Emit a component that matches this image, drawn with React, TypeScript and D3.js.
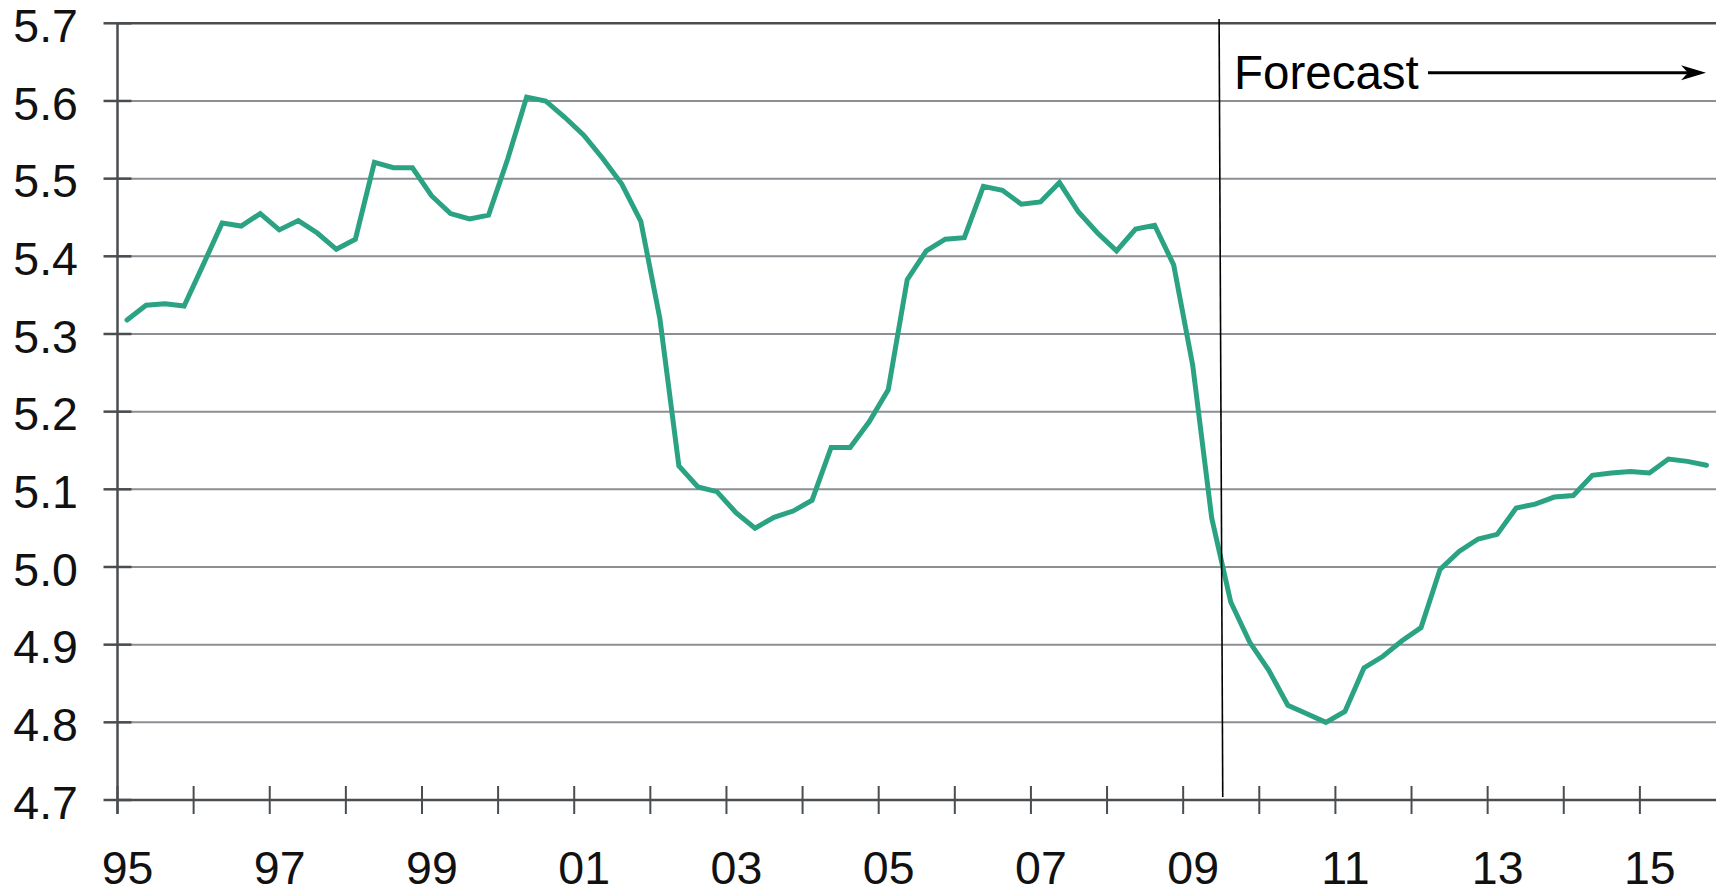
import React from "react";
import * as d3 from "d3";

const startYear = 1995;
const endYear = 2016;
const series: number[] = [
  5.318, 5.337, 5.339, 5.336, 5.389, 5.443, 5.439, 5.455,
  5.434, 5.446, 5.430, 5.409, 5.422, 5.521, 5.514, 5.514,
  5.478, 5.455, 5.448, 5.453, 5.525, 5.605, 5.600, 5.579,
  5.556, 5.526, 5.493, 5.445, 5.320, 5.130, 5.103, 5.097,
  5.070, 5.050, 5.064, 5.072, 5.086, 5.154, 5.154, 5.187,
  5.228, 5.370, 5.407, 5.422, 5.424, 5.490, 5.485, 5.467,
  5.470, 5.495, 5.457, 5.430, 5.407, 5.435, 5.440, 5.389,
  5.260, 5.063, 4.955, 4.903, 4.867, 4.822, 4.811, 4.800,
  4.814, 4.870, 4.885, 4.905, 4.922, 4.997, 5.020, 5.036,
  5.042, 5.076, 5.081, 5.090, 5.092, 5.118, 5.121, 5.123,
  5.121, 5.139, 5.136, 5.131,
];
const yTicks: number[] = [4.7, 4.8, 4.9, 5.0, 5.1, 5.2, 5.3, 5.4, 5.5, 5.6, 5.7];
const xTickYears: number[] = d3.range(1995, 2016);
const xLabelYears: number[] = [1995, 1997, 1999, 2001, 2003, 2005, 2007, 2009, 2011, 2013, 2015];
const forecastTop = 2009.472;
const forecastBottom = 2009.52;
const forecastLabel = "Forecast";

const W = 1716;
const H = 891;
const FONT = "'Liberation Sans', Arial, sans-serif";

export default function App() {
  const x = d3.scaleLinear().domain([startYear, endYear]).range([117.5, 1716]);
  const y = d3.scaleLinear().domain([4.7, 5.7]).range([800, 23.3]);
  const pts = series.map((v, i) => [startYear + (i + 0.5) / 4, v] as [number, number]);
  const line = d3
    .line<[number, number]>()
    .x((d) => x(d[0]))
    .y((d) => y(d[1]));
  const axisColor = "#4a4d50";
  const gridColor = "#8b8f93";
  const x0 = x(startYear);
  const arrowY = 72.7;
  return (
    <svg
      width={W}
      height={H}
      style={{ position: "absolute", left: 0, top: 0, background: "#fff" }}
      fontFamily={FONT}
    >
      <rect x={0} y={0} width={W} height={H} fill="#fff" />
      {yTicks.map((t, i) => (
        <g key={"g" + i}>
          <line
            x1={x0}
            x2={W}
            y1={y(t)}
            y2={y(t)}
            stroke={i === 0 || i === yTicks.length - 1 ? axisColor : gridColor}
            strokeWidth={i === 0 || i === yTicks.length - 1 ? 2.5 : 2}
          />
          <line x1={x0 - 14} x2={x0 + 14} y1={y(t)} y2={y(t)} stroke={axisColor} strokeWidth={2.5} />
          <text
            x={78}
            y={y(t) + 18.6}
            textAnchor="end"
            fontSize={46.5}
            fill="#111"
          >
            {t.toFixed(1)}
          </text>
        </g>
      ))}
      <line x1={x0} x2={x0} y1={y(5.7)} y2={814} stroke={axisColor} strokeWidth={2.5} />
      {xTickYears.map((yr) => (
        <line
          key={"xt" + yr}
          x1={x(yr)}
          x2={x(yr)}
          y1={786}
          y2={814}
          stroke={axisColor}
          strokeWidth={2}
        />
      ))}
      {xLabelYears.map((yr) => (
        <text
          key={"xl" + yr}
          x={x(yr) + 10}
          y={884}
          textAnchor="middle"
          fontSize={46.5}
          fill="#111"
        >
          {String(yr % 100).padStart(2, "0")}
        </text>
      ))}
      <path
        d={line(pts) || ""}
        fill="none"
        stroke="#2ba383"
        strokeWidth={5}
        strokeLinejoin="miter"
        strokeLinecap="round"
      />
      <line
        x1={x(forecastTop)}
        x2={x(forecastBottom)}
        y1={19}
        y2={797}
        stroke="#000"
        strokeWidth={1.6}
      />
      <text x={1234} y={89} fontSize={47.5} fill="#000">
        {forecastLabel}
      </text>
      <line x1={1428} x2={1690} y1={arrowY} y2={arrowY} stroke="#000" strokeWidth={3} />
      <path
        d={`M1706,${arrowY} L1681,${arrowY - 7.5} L1688,${arrowY} L1681,${arrowY + 7.5} Z`}
        fill="#000"
      />
    </svg>
  );
}
